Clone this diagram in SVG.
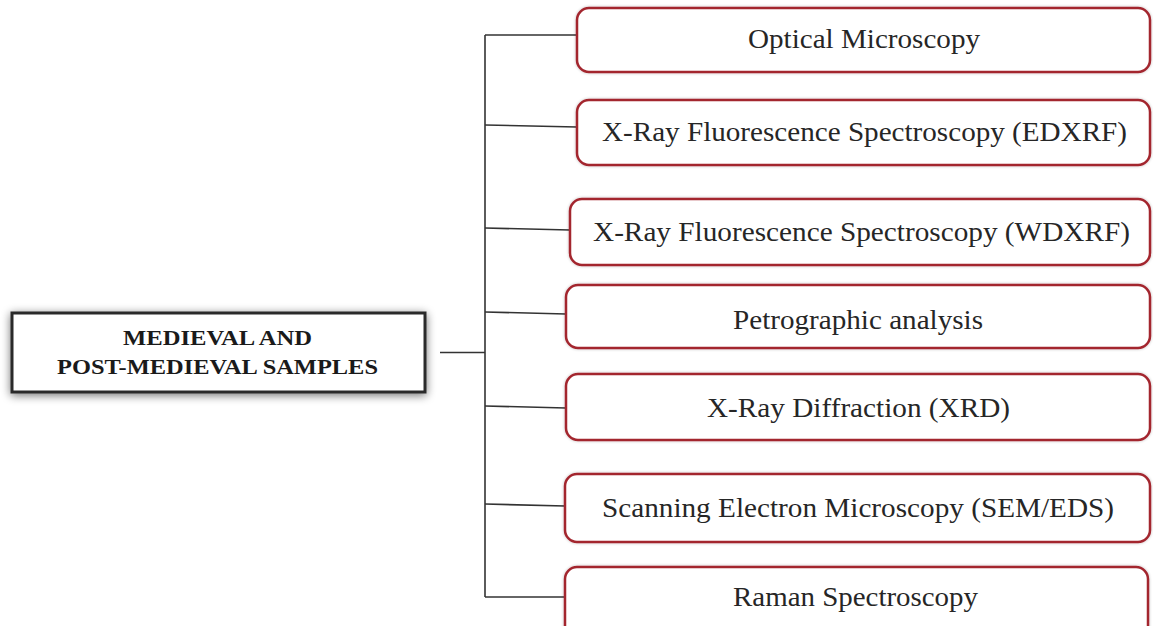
<svg xmlns="http://www.w3.org/2000/svg" width="1153" height="626" viewBox="0 0 1153 626">
<defs>
<filter id="shadow" x="-10%" y="-30%" width="120%" height="160%">
<feGaussianBlur in="SourceAlpha" stdDeviation="5"/>
<feOffset dx="0" dy="2"/>
<feComponentTransfer><feFuncA type="linear" slope="0.55"/></feComponentTransfer>
<feMerge><feMergeNode/><feMergeNode in="SourceGraphic"/></feMerge>
</filter>
<filter id="glow" x="-5%" y="-20%" width="110%" height="140%">
<feGaussianBlur in="SourceAlpha" stdDeviation="1.5"/>
<feComponentTransfer><feFuncA type="linear" slope="0.25"/></feComponentTransfer>
<feMerge><feMergeNode/><feMergeNode in="SourceGraphic"/></feMerge>
</filter>
</defs>
<style>
.box{fill:#ffffff;stroke:#a3262f;stroke-width:2.5;filter:url(#glow)}
.lbl{font-family:"Liberation Serif","Times New Roman",serif;font-size:27px;fill:#262626;text-anchor:middle}
.main{fill:#ffffff;stroke:#2a2a2a;stroke-width:3;filter:url(#shadow)}
.mtxt{font-family:"Liberation Serif","Times New Roman",serif;font-size:20px;font-weight:bold;fill:#1a1a1a;text-anchor:middle}
.conn{stroke:#333;stroke-width:1.6;fill:none}
</style>
<rect width="1153" height="626" fill="#ffffff"/>
<g id="connectors">
<line class="conn" x1="440" y1="352.5" x2="485" y2="352.5"/>
<line class="conn" x1="485" y1="35" x2="485" y2="597"/>
<line class="conn" x1="485" y1="35" x2="577" y2="35"/>
<line class="conn" x1="485" y1="125" x2="577" y2="127"/>
<line class="conn" x1="485" y1="228" x2="570" y2="230"/>
<line class="conn" x1="485" y1="312" x2="566" y2="314"/>
<line class="conn" x1="485" y1="406" x2="566" y2="408"/>
<line class="conn" x1="485" y1="504" x2="565" y2="506"/>
<line class="conn" x1="485" y1="597" x2="565" y2="597"/>
</g>
<g id="main-node">
<rect class="main" x="12" y="313" width="413" height="79"/>
<text class="mtxt" x="217.5" y="345" textLength="189" lengthAdjust="spacingAndGlyphs">MEDIEVAL AND</text>
<text class="mtxt" x="217.5" y="374" textLength="321" lengthAdjust="spacingAndGlyphs">POST-MEDIEVAL SAMPLES</text>
</g>
<g id="node-optical">
<rect class="box" x="577" y="8" width="573" height="64" rx="12"/>
<text class="lbl" x="864" y="48" textLength="232" lengthAdjust="spacingAndGlyphs">Optical Microscopy</text>
</g>
<g id="node-edxrf">
<rect class="box" x="577" y="100" width="573" height="65" rx="12"/>
<text class="lbl" x="864.5" y="141" textLength="525" lengthAdjust="spacingAndGlyphs">X-Ray Fluorescence Spectroscopy (EDXRF)</text>
</g>
<g id="node-wdxrf">
<rect class="box" x="570" y="199" width="580" height="66" rx="12"/>
<text class="lbl" x="861.5" y="241" textLength="537" lengthAdjust="spacingAndGlyphs">X-Ray Fluorescence Spectroscopy (WDXRF)</text>
</g>
<g id="node-petro">
<rect class="box" x="566" y="285" width="584" height="63" rx="12"/>
<text class="lbl" x="858" y="329" textLength="250" lengthAdjust="spacingAndGlyphs">Petrographic analysis</text>
</g>
<g id="node-xrd">
<rect class="box" x="566" y="374" width="584" height="66" rx="12"/>
<text class="lbl" x="858.5" y="417" textLength="303" lengthAdjust="spacingAndGlyphs">X-Ray Diffraction (XRD)</text>
</g>
<g id="node-sem">
<rect class="box" x="565" y="474" width="585" height="68" rx="12"/>
<text class="lbl" x="858" y="517" textLength="512" lengthAdjust="spacingAndGlyphs">Scanning Electron Microscopy (SEM/EDS)</text>
</g>
<g id="node-raman">
<rect class="box" x="565" y="567" width="583" height="72" rx="12"/>
<text class="lbl" x="855.5" y="606" textLength="245" lengthAdjust="spacingAndGlyphs">Raman Spectroscopy</text>
</g>
</svg>
